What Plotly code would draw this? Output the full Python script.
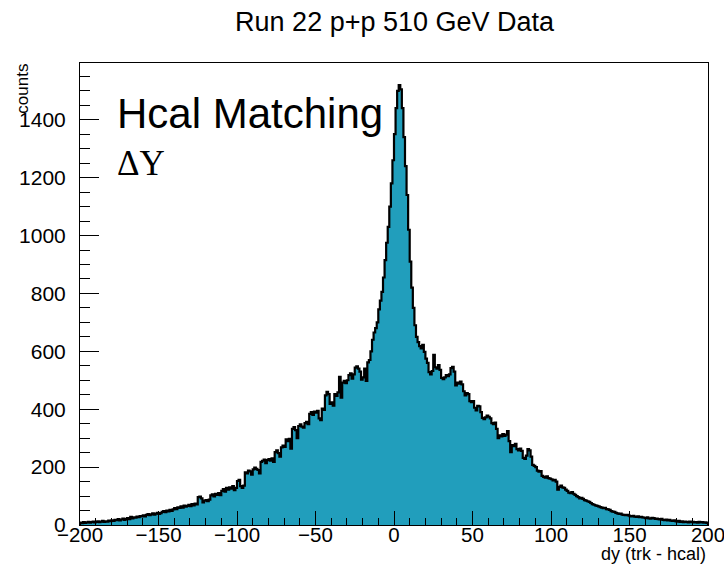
import plotly.graph_objects as go

# Histogram binning: 400 bins of width 1 from -200 to 200
bin_low = -200
bin_width = 1

# Counts per bin, left to right
counts = [
    # -200 .. -181
    8, 6, 10, 7, 9, 11, 8, 10, 12, 9, 11, 13, 10, 12, 14, 11, 13, 12, 15, 13,
    # -180 .. -161
    16, 14, 18, 17, 20, 16, 19, 22, 18, 21, 24, 20, 28, 23, 26, 25, 29, 27, 31, 30,
    # -160 .. -141
    33, 30, 35, 38, 34, 37, 40, 36, 39, 42, 38, 41, 45, 48, 44, 50, 47, 52, 49, 54,
    # -140 .. -121
    58, 55, 61, 59, 64, 60, 67, 63, 66, 70, 65, 72, 68, 74, 71, 96, 98, 92, 78, 84,
    # -120 .. -101
    86, 82, 88, 102, 106, 99, 108, 104, 110, 103, 118, 124, 115, 128, 122, 130, 126, 134, 120, 128,
    # -100 .. -81
    152, 156, 134, 128, 136, 182, 178, 188, 185, 174, 192, 198, 194, 190, 178, 218, 222, 226, 214, 224,
    # -80 .. -61
    228, 222, 230, 218, 252, 258, 248, 236, 268, 274, 270, 296, 290, 298, 264, 332, 338, 328, 300, 342,
    # -60 .. -41
    348, 340, 336, 352, 356, 348, 384, 390, 380, 392, 388, 394, 368, 362, 402, 398, 448, 460, 452, 418,
    # -40 .. -21
    424, 412, 452, 446, 458, 512, 440, 492, 498, 490, 500, 518, 524, 506, 520, 544, 548, 540, 530, 502,
    # -20 .. -1
    510, 540, 498, 562, 570, 600, 640, 665, 680, 700, 745, 775, 805, 855, 915, 975, 1030, 1100, 1180, 1260,
    # 0 .. 19
    1350, 1440, 1500, 1520, 1505, 1440, 1340, 1240, 1140, 1020, 910, 820, 750, 690, 650, 632, 618, 610, 622, 598,
    # 20 .. 39
    575, 560, 528, 520, 532, 588, 545, 540, 552, 536, 508, 504, 510, 518, 514, 520, 542, 546, 530, 482,
    # 40 .. 59
    492, 488, 495, 486, 462, 448, 456, 452, 428, 424, 428, 405, 396, 412, 410, 390, 370, 366, 372, 378,
    # 60 .. 79
    374, 368, 352, 348, 354, 332, 300, 310, 306, 314, 308, 312, 324, 290, 252, 276, 272, 280, 262, 258,
    # 80 .. 99
    264, 256, 232, 228, 240, 262, 258, 236, 208, 204, 200, 188, 184, 186, 170, 166, 164, 168, 162, 160,
    # 100 .. 119
    158, 154, 156, 150, 122, 132, 136, 130, 128, 122, 118, 112, 110, 114, 108, 104, 100, 96, 92, 94,
    # 120 .. 139
    90, 86, 84, 82, 80, 76, 72, 70, 68, 66, 64, 62, 60, 58, 59, 55, 54, 52, 48, 46,
    # 140 .. 159
    45, 42, 40, 38, 39, 36, 35, 34, 35, 33, 31, 30, 32, 29, 28, 30, 27, 28, 26, 25,
    # 160 .. 179
    24, 26, 23, 22, 25, 24, 21, 22, 20, 19, 21, 18, 17, 19, 16, 18, 15, 14, 16, 13,
    # 180 .. 199
    12, 14, 11, 13, 10, 12, 11, 9, 12, 10, 11, 9, 10, 8, 11, 9, 10, 8, 9, 7,
]

title_text = "Run 22 p+p 510 GeV Data"
x_title = "dy (trk - hcal)"
y_title = "counts"
label_main = "Hcal Matching"
label_sub = "\u0394Y"

fill_color = "#219ebc"
sans = "Liberation Sans, Arial, Helvetica, sans-serif"
serif = "Liberation Serif, Times New Roman, serif"

# Step outline: start at zero, step through every bin, drop back to zero
edges = [bin_low + i * bin_width for i in range(len(counts) + 1)]
step_x = [edges[0]] + edges[:-1] + [edges[-1], edges[-1]]
step_y = [0] + counts + [counts[-1], 0]

y_max = 1.05 * max(counts)

fig = go.Figure()
fig.add_trace(go.Scatter(
    x=step_x, y=step_y, mode="lines", line_shape="hv",
    line=dict(color="black", width=2.2),
    fill="tozeroy", fillcolor=fill_color,
    hoverinfo="skip", showlegend=False,
))

fig.update_layout(
    width=724, height=566,
    margin=dict(l=80, r=16, t=63, b=41),
    paper_bgcolor="white", plot_bgcolor="white",
    font=dict(family=sans, color="black", size=21),
    title=dict(text=title_text, x=0.545, xanchor="center",
               y=1 - 22 / 566, yanchor="middle", yref="container",
               font=dict(family=sans, size=27, color="black")),
    showlegend=False,
)

fig.update_xaxes(
    range=[-200, 200], showgrid=False, zeroline=False,
    showline=True, linecolor="black", linewidth=1, mirror=True,
    ticks="inside", ticklen=14, tickwidth=1, tickcolor="black",
    tick0=-200, dtick=50,
    minor=dict(ticks="inside", ticklen=7, dtick=10, tickcolor="black", tickwidth=1),
    tickfont=dict(family=sans, size=20.5, color="black"),
    ticklabelstandoff=-9,
    ticklabeloverflow="allow",
    automargin=False,
)
fig.update_yaxes(
    range=[0, y_max], showgrid=False, zeroline=False,
    showline=True, linecolor="black", linewidth=1, mirror=True,
    ticks="inside", ticklen=19, tickwidth=1, tickcolor="black",
    tick0=0, dtick=200,
    minor=dict(ticks="inside", ticklen=10, dtick=50, tickcolor="black", tickwidth=1),
    tickfont=dict(family=sans, size=21, color="black"),
    ticklabelstandoff=9,
    automargin=False,
)

fig.add_annotation(text=y_title, xref="paper", yref="paper",
                   x=-0.093, y=1.002, xanchor="center", yanchor="top",
                   textangle=-90, showarrow=False,
                   font=dict(family=sans, size=17, color="black"))
fig.add_annotation(text=x_title, xref="paper", yref="paper",
                   x=1.0, y=-0.062, xanchor="right", yanchor="middle",
                   showarrow=False,
                   font=dict(family=sans, size=18, color="black"))
fig.add_annotation(text=label_main, xref="paper", yref="paper",
                   x=0.056, y=0.891, xanchor="left", yanchor="middle",
                   showarrow=False,
                   font=dict(family=sans, size=42, color="black"))
fig.add_annotation(text=label_sub, xref="paper", yref="paper",
                   x=0.056, y=0.782, xanchor="left", yanchor="middle",
                   showarrow=False,
                   font=dict(family=serif, size=35, color="black"))

fig.write_html("out.html")
